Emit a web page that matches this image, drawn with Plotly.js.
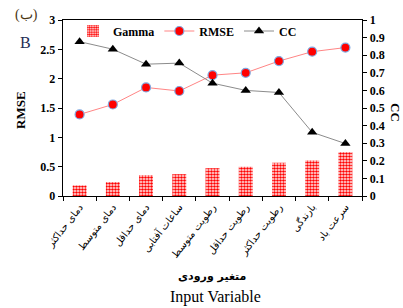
<!DOCTYPE html>
<html><head><meta charset="utf-8">
<script src="https://cdn.plot.ly/plotly-3.0.1.min.js"></script>
<style>html,body{margin:0;padding:0;background:#fff}#c{width:403px;height:308px}</style>
</head><body><div id="c"></div>
<script>
var categories = ["دمای حداکثر","دمای متوسط","دمای حداقل","ساعات آفتابی","رطوبت متوسط","رطوبت حداقل","رطوبت حداکثر","بارندگی","سرعت باد"];
var gamma = [0.06, 0.079, 0.118, 0.124, 0.158, 0.166, 0.189, 0.202, 0.249];
var rmse = [1.39, 1.56, 1.85, 1.79, 2.06, 2.10, 2.30, 2.46, 2.53];
var cc = [0.877, 0.834, 0.749, 0.755, 0.641, 0.60, 0.588, 0.362, 0.298];

var L=63, R=362, T=20, B=196;
function px(x){return (x-L)/(R-L);}
function py(y){return (B-y)/(B-T);}
var serifB = {family:"Liberation Serif", size:12, color:"#000", weight:"bold"};
function ann(x, y, text, font, angle){
  return {xref:"paper", yref:"paper", x:px(x), y:py(y), xanchor:"center", yanchor:"middle", text:text, showarrow:false, textangle:angle||0, font:font};
}

var traces = [
 {type:"bar", name:"Gamma", x:categories, y:gamma, yaxis:"y2", width:0.42,
  marker:{color:"white", line:{width:0}, pattern:{shape:".", fgcolor:"#ff0000", bgcolor:"#ffffff", size:3, solidity:0.6}}},
 {type:"scatter", mode:"lines+markers", name:"RMSE", x:categories, y:rmse, yaxis:"y",
  line:{color:"#ff8585", width:1}, marker:{symbol:"circle", size:9, color:"#ff0000", line:{color:"#7fa8e0", width:1.2}}},
 {type:"scatter", mode:"lines+markers", name:"CC", x:categories, y:cc, yaxis:"y2",
  line:{color:"#8c8c8c", width:1}, marker:{symbol:"triangle-up", size:9, color:"#000"}}
];

var layout = {
 width:403, height:308, margin:{l:L, r:403-R, t:T, b:308-B},
 paper_bgcolor:"#fff", plot_bgcolor:"#fff", showlegend:true,
 legend:{orientation:"h", x:px(73), y:py(31), xanchor:"left", yanchor:"middle", bgcolor:"rgba(0,0,0,0)",
   font:{family:"Liberation Serif", size:12, color:"#000", weight:"bold"}, itemwidth:30, tracegroupgap:0},
 xaxis:{type:"category", range:[-0.5,8.5], showline:true, linecolor:"#000", linewidth:1.3, mirror:true,
   ticks:"outside", tickson:"boundaries", ticklen:4, tickcolor:"#000", tickangle:-52, showgrid:false,
   tickfont:{family:"DejaVu Sans", size:10, color:"#000"}, automargin:false},
 yaxis:{range:[0,3], dtick:0.5, showline:true, linecolor:"#000", linewidth:1.3, ticks:"outside", ticklen:4,
   tickcolor:"#000", showgrid:false, zeroline:false, tickfont:serifB, automargin:false},
 yaxis2:{range:[0,1], dtick:0.1, overlaying:"y", side:"right", showline:true, linecolor:"#000", linewidth:1.3,
   ticks:"outside", ticklen:4, tickcolor:"#000", showgrid:false, zeroline:false, tickfont:serifB, automargin:false},
 annotations:[
  ann(26, 15, "(ب)", {family:"Liberation Serif", size:14, color:"#4a3512"}),
  ann(25, 42, "B", {family:"Liberation Serif", size:16, color:"#1f2d55"}),
  ann(20, 110, "RMSE", {family:"Liberation Serif", size:13, color:"#000", weight:"bold"}, -90),
  ann(396, 112, "CC", {family:"Liberation Serif", size:13, color:"#000", weight:"bold"}, 90),
  ann(212, 276, "متغیر ورودی", {family:"DejaVu Sans", size:11, color:"#000", weight:"bold"}),
  ann(215, 297, "Input Variable", {family:"Liberation Serif", size:16, color:"#000"})
 ]
};
Plotly.newPlot("c", traces, layout, {displayModeBar:false, staticPlot:true});
</script></body></html>
